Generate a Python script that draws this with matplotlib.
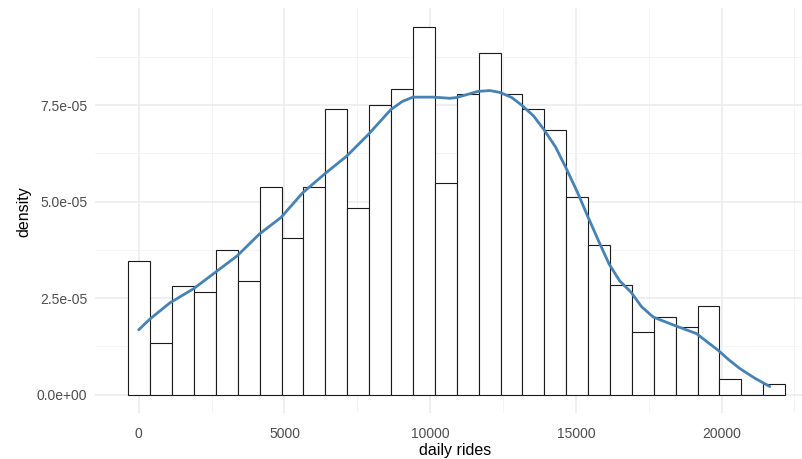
import numpy as np
import matplotlib
matplotlib.use("Agg")
import matplotlib.pyplot as plt
from matplotlib.ticker import FuncFormatter, MultipleLocator, FixedLocator

plt.rcParams["font.family"] = ["Liberation Sans", "DejaVu Sans"]

# histogram: 30 bins, density values
BIN_START = -356
BIN_WIDTH = 751.2
bin_density = [
    3.47e-5, 1.34e-5, 2.82e-5, 2.67e-5, 3.74e-5, 2.94e-5, 5.37e-5, 4.05e-5,
    5.37e-5, 7.40e-5, 4.84e-5, 7.51e-5, 7.93e-5, 9.54e-5, 5.49e-5, 7.78e-5,
    8.86e-5, 7.78e-5, 7.40e-5, 6.86e-5, 5.11e-5, 3.89e-5, 2.83e-5, 1.61e-5,
    2.02e-5, 1.76e-5, 2.29e-5, 0.40e-5, 0.0, 0.27e-5,
]

# kernel density curve
dens_x = [0, 388, 1073, 1874, 2630, 3384, 4137, 4881, 5625, 6380, 7134,
          7876, 8654, 9050, 9409, 10105, 10678, 10907, 11649, 12050, 12403,
          12800, 13158, 13550, 13902, 14300, 14657, 15050, 15401, 15780,
          16142, 16500, 16896, 17250, 17651, 18395, 19140, 19894, 20250,
          20635, 21150, 21654]
dens_y = [1.68e-5, 1.96e-5, 2.38e-5, 2.74e-5, 3.17e-5, 3.60e-5, 4.16e-5,
          4.59e-5, 5.23e-5, 5.72e-5, 6.18e-5, 6.74e-5, 7.39e-5, 7.60e-5,
          7.71e-5, 7.71e-5, 7.68e-5, 7.70e-5, 7.86e-5, 7.88e-5, 7.83e-5,
          7.70e-5, 7.49e-5, 7.22e-5, 6.87e-5, 6.42e-5, 5.88e-5, 5.25e-5,
          4.63e-5, 3.98e-5, 3.38e-5, 2.95e-5, 2.65e-5, 2.28e-5, 2.01e-5,
          1.79e-5, 1.58e-5, 1.14e-5, 0.90e-5, 0.67e-5, 0.42e-5, 0.21e-5]

W, H = 803, 459
fig = plt.figure(figsize=(W / 100, H / 100), dpi=100)
# panel runs past the right edge of the picture (cropped ggplot output)
ax = fig.add_axes([95.5 / W, 1 - 413 / H, (818 - 95.5) / W, (413 - 8) / H])

edges = BIN_START + BIN_WIDTH * np.arange(len(bin_density))
ax.bar(edges, bin_density, width=BIN_WIDTH, align="edge",
       facecolor="white", edgecolor="#1a1a1a", linewidth=0.8, zorder=2)
ax.plot(dens_x, dens_y, color="#4682B4", linewidth=2.0, zorder=3,
        solid_capstyle="round", solid_joinstyle="round")

ax.set_xlim(-1483, 23307)
ax.set_ylim(-0.477e-5, 10.02e-5)

ax.xaxis.set_major_locator(MultipleLocator(5000))
ax.xaxis.set_minor_locator(MultipleLocator(2500))
ax.yaxis.set_major_locator(FixedLocator([0, 2.5e-5, 5.0e-5, 7.5e-5]))
ax.yaxis.set_minor_locator(FixedLocator([1.25e-5, 3.75e-5, 6.25e-5, 8.75e-5]))
ax.yaxis.set_major_formatter(FuncFormatter(lambda v, p: f"{v:.1e}"))
ax.xaxis.set_major_formatter(FuncFormatter(lambda v, p: f"{v:.0f}"))

ax.grid(True, which="major", color="#EBEBEB", linewidth=1.1, zorder=0)
ax.grid(True, which="minor", color="#F2F2F2", linewidth=0.6, zorder=0)
ax.set_axisbelow(True)
for s in ax.spines.values():
    s.set_visible(False)
ax.tick_params(which="both", length=0)
ax.tick_params(axis="x", pad=10, labelsize=10, labelcolor="#4D4D4D")
ax.tick_params(axis="y", pad=6, labelsize=10, labelcolor="#4D4D4D")

ax.set_xlabel("daily rides", fontsize=11.5)
ax.set_ylabel("density", fontsize=11.5)
ax.xaxis.set_label_coords((455 - 95.5) / (818 - 95.5), -(450 - 413) / (413 - 8))
ax.xaxis.label.set_va("center")
ax.yaxis.set_label_coords(-(95.5 - 24) / (818 - 95.5), (413 - 212) / (413 - 8))
ax.yaxis.label.set_va("center")

fig.savefig("out.png", dpi=100)
